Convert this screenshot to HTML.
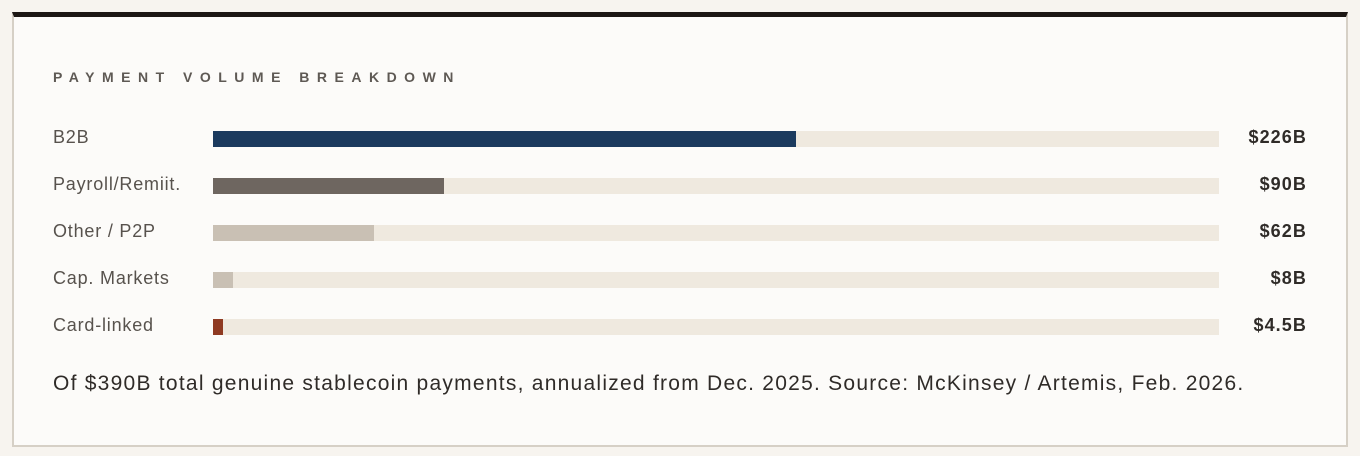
<!DOCTYPE html>
<html><head><style>
body{margin:0;width:1360px;height:456px;background:#f7f4ef;font-family:"Liberation Sans",sans-serif;overflow:hidden}
.card{position:absolute;left:12px;top:12px;width:1332px;height:428px;background:#fcfbf9;border:2px solid #d6d0c6;border-top:5px solid #1c1714}
.t{position:absolute;left:39px;top:52px;font-size:14px;letter-spacing:7.5px;color:#5e5954;font-weight:bold}
.row{position:absolute;left:0;width:1332px;height:20px}
.lb{position:absolute;left:39px;top:-2px;font-size:18px;letter-spacing:0.8px;color:#57524d}
.tr{position:absolute;left:199px;top:2px;width:1006px;height:16px;background:#efe9df}
.f{position:absolute;left:0;top:0;height:16px}
.v{position:absolute;right:39px;top:-2px;font-size:18px;letter-spacing:1.1px;font-weight:bold;color:#2f2b28}
.ft{position:absolute;left:39px;top:355px;font-size:21px;letter-spacing:1.25px;color:#2f2b28;white-space:nowrap}
</style></head><body>
<div class="card">
<div class="t">PAYMENT VOLUME BREAKDOWN</div>
<div class="row" style="top:112px"><div class="lb">B2B</div><div class="tr"><div class="f" style="width:583px;background:#1b3a5e"></div></div><div class="v">$226B</div></div>
<div class="row" style="top:159px"><div class="lb">Payroll/Remiit.</div><div class="tr"><div class="f" style="width:231px;background:#6e6660"></div></div><div class="v">$90B</div></div>
<div class="row" style="top:206px"><div class="lb">Other / P2P</div><div class="tr"><div class="f" style="width:161px;background:#c9c0b4"></div></div><div class="v">$62B</div></div>
<div class="row" style="top:253px"><div class="lb">Cap. Markets</div><div class="tr"><div class="f" style="width:20px;background:#c9c0b4"></div></div><div class="v">$8B</div></div>
<div class="row" style="top:300px"><div class="lb">Card-linked</div><div class="tr"><div class="f" style="width:10px;background:#8f3a22"></div></div><div class="v">$4.5B</div></div>
<div class="ft">Of $390B total genuine stablecoin payments, annualized from Dec. 2025. Source: McKinsey / Artemis, Feb. 2026.</div>
</div>
</body></html>
